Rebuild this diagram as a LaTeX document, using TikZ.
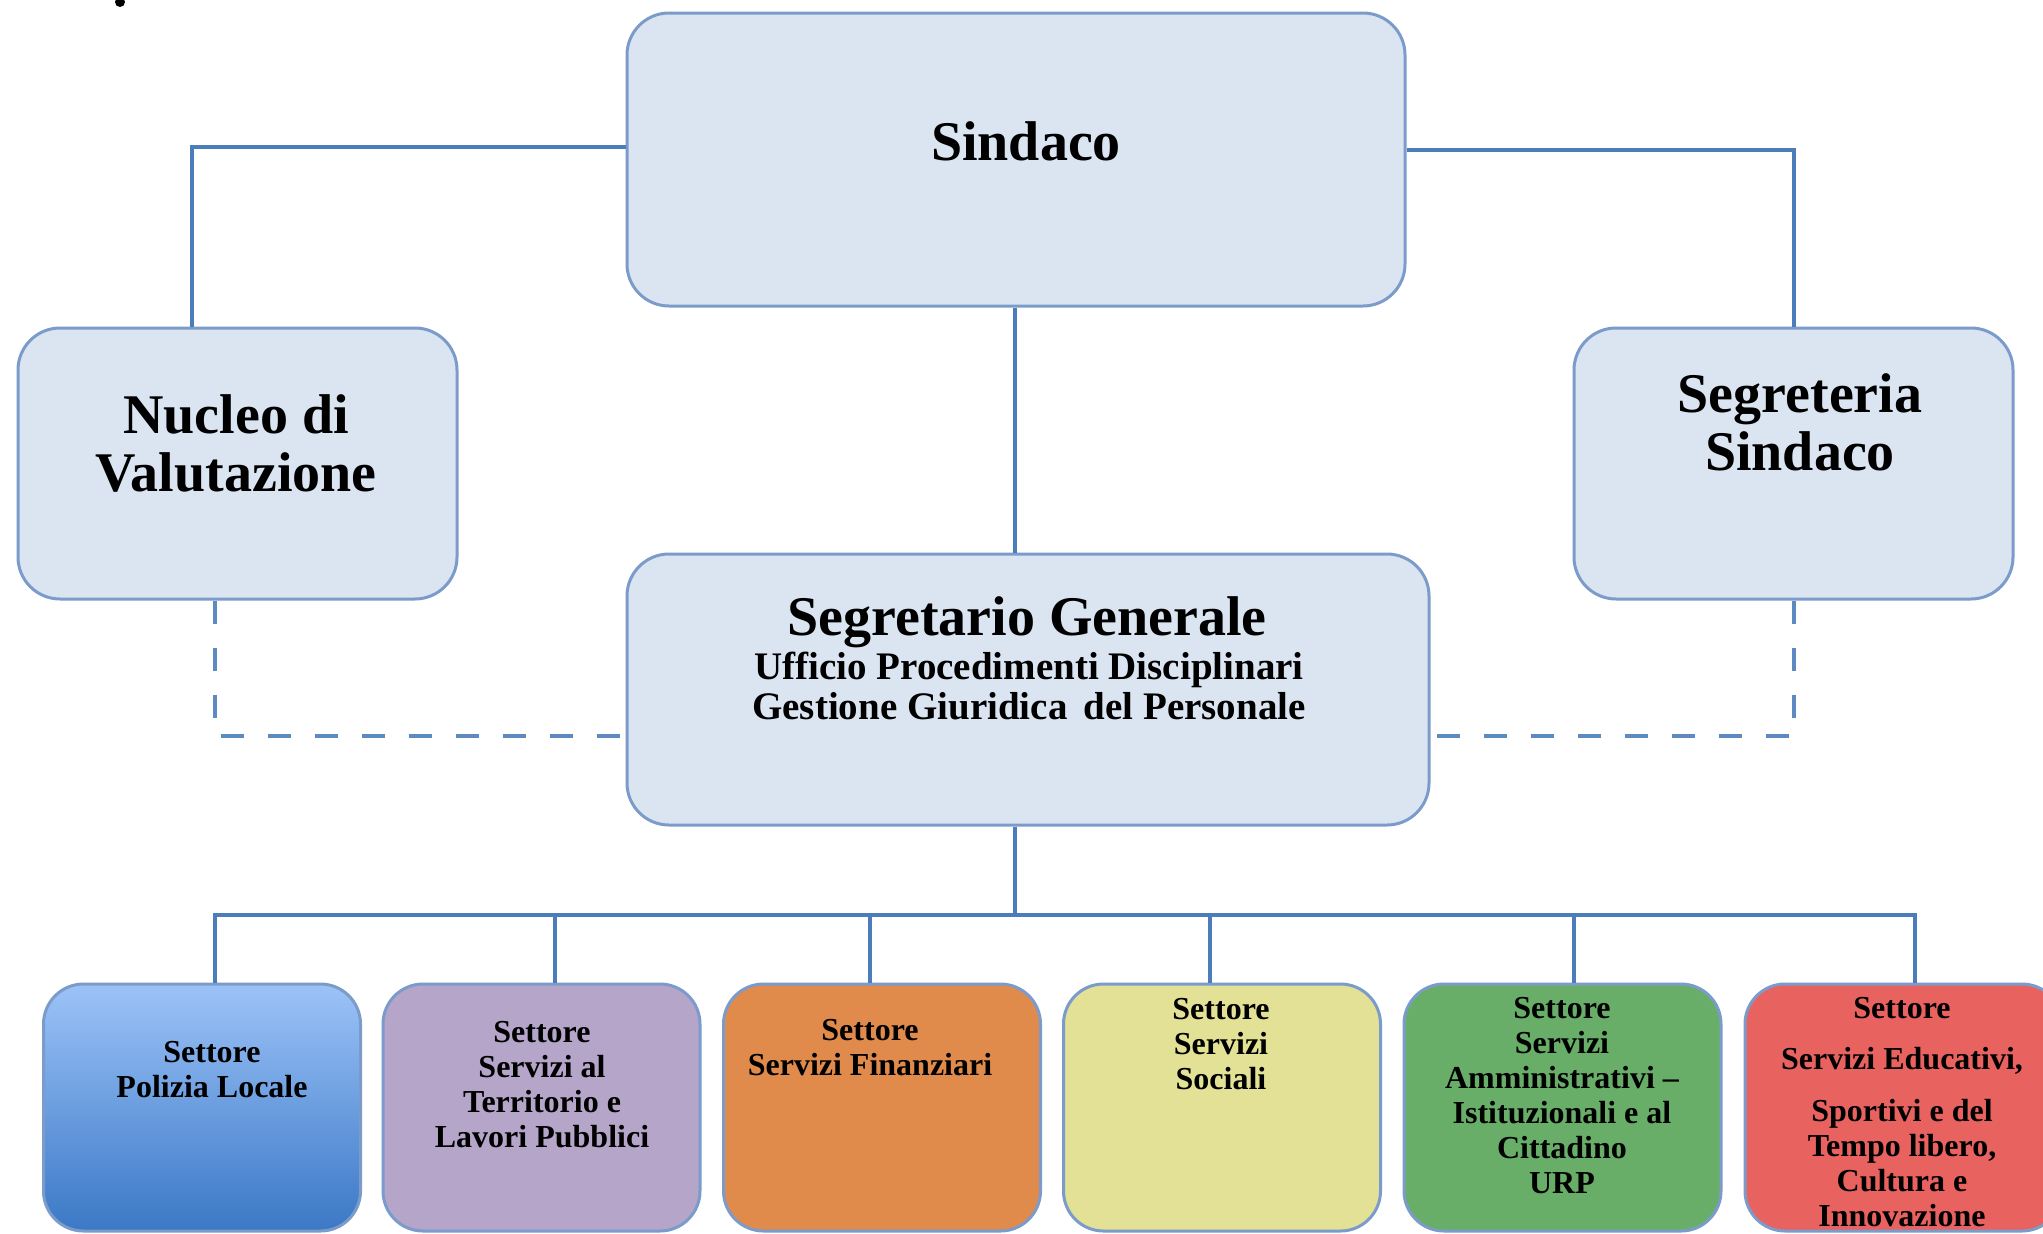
\documentclass[tikz,border=0pt]{standalone}
\usepackage{fontspec}
\setmainfont{Liberation Serif}
\definecolor{lightfill}{HTML}{DBE5F1}
\definecolor{boxborder}{HTML}{7B9CCB}
\definecolor{linecol}{HTML}{4A7DBA}
\definecolor{bluetop}{HTML}{9CC3F8}
\definecolor{bluebot}{HTML}{3B78C6}
\definecolor{purplefill}{HTML}{B5A5C8}
\definecolor{orangefill}{HTML}{E08A4B}
\definecolor{yellowfill}{HTML}{E2E195}
\definecolor{greenfill}{HTML}{68AE68}
\definecolor{redfill}{HTML}{E86260}
\begin{document}
\begin{tikzpicture}[x=1pt,y=-1pt,
  topbox/.style={draw=boxborder, line width=3pt, fill=lightfill, rounded corners=42pt, inner sep=0pt},
  secbox/.style={draw=boxborder, line width=3pt, rounded corners=40pt, inner sep=0pt,
      minimum width=317pt, minimum height=247pt},
  conn/.style={draw=linecol, line width=4pt},
  dconn/.style={draw=linecol!90!white, line width=4.5pt, dash pattern=on 23pt off 24pt},
  bigtxt/.style={font=\fontsize{56}{58}\selectfont\bfseries, align=center, inner sep=0pt},
  midtxt/.style={font=\fontsize{39}{40}\selectfont\bfseries, align=center, inner sep=0pt},
  smalltxt/.style={font=\fontsize{32}{35}\selectfont\bfseries, align=center, inner sep=0pt}
]
\useasboundingbox (0,0) rectangle (2043,1234);
\fill[white] (0,0) rectangle (2043,1234);
\fill[black] (120,2) circle (5);

% boxes
\node[topbox, minimum width=778pt, minimum height=293pt] (sindaco) at (1016,159.5) {};
\node[topbox, minimum width=439pt, minimum height=271pt] (nucleo) at (237.5,463.5) {};
\node[topbox, minimum width=439pt, minimum height=271pt] (segreteria) at (1793.5,463.5) {};
\node[topbox, minimum width=802pt, minimum height=271pt] (segretario) at (1028,689.5) {};

\node[secbox, top color=bluetop, bottom color=bluebot] (b1) at (202,1107.5) {};
\node[secbox, fill=purplefill] (b2) at (541.5,1107.5) {};
\node[secbox, fill=orangefill] (b3) at (882,1107.5) {};
\node[secbox, fill=yellowfill] (b4) at (1222,1107.5) {};
\node[secbox, fill=greenfill] (b5) at (1562.5,1107.5) {};
\node[secbox, fill=redfill] (b6) at (1903.5,1107.5) {};

% texts
\node[bigtxt] (tsindaco) at (1026,141) {Sindaco};
\node[bigtxt] (tnucleo) at (236,443) {Nucleo di\\Valutazione};
\node[bigtxt] (tsegreteria) at (1800,422) {Segreteria\\Sindaco};
\node[bigtxt] (tsegretario) at (1027,622) {Segretario Generale};
\node[midtxt] (tufficio) at (1029,686) {Ufficio Procedimenti Disciplinari\\Gestione Giuridica\, del Personale};

\node[smalltxt] (t1) at (212,1070) {Settore\\Polizia Locale};
\node[smalltxt] (t2) at (542,1085) {Settore\\Servizi al\\Territorio e\\Lavori Pubblici};
\node[smalltxt] (t3) at (870,1048) {Settore\\Servizi Finanziari};
\node[smalltxt] (t4) at (1221,1044) {Settore\\Servizi\\Sociali};
\node[smalltxt] (t5) at (1562,1096) {Settore\\Servizi\\Amministrativi --\\Istituzionali e al\\Cittadino\\URP};
\node[smalltxt] (t6) at (1902,1112) {Settore\\[16pt]Servizi Educativi,\\[17pt]Sportivi e del\\Tempo libero,\\Cultura e\\Innovazione};

% connectors
\draw[conn] (sindaco.west |- 0,147) -| (nucleo.north -| 192,0);
\draw[conn] (sindaco.east |- 0,150) -| (segreteria.north -| 1794,0);
\draw[conn] (sindaco.south -| 1015,0) -- (segretario.north -| 1015,0);
\draw[dconn] (nucleo.south -| 215,0) |- (segretario.west |- 0,736);
\draw[dconn] (segreteria.south -| 1794,0) |- (segretario.east |- 0,736);

\coordinate (bus) at (1015,915);
\coordinate (bus1) at (215,915);
\coordinate (bus2) at (555,915);
\coordinate (bus3) at (870,915);
\coordinate (bus4) at (1210,915);
\coordinate (bus5) at (1574,915);
\coordinate (bus6) at (1915,915);
\draw[conn] (segretario.south -| bus) -- (bus);
\draw[conn, line cap=rect] (bus1) -- (bus6);
\draw[conn] (bus1) -- (b1.north -| bus1);
\draw[conn] (bus2) -- (b2.north -| bus2);
\draw[conn] (bus3) -- (b3.north -| bus3);
\draw[conn] (bus4) -- (b4.north -| bus4);
\draw[conn] (bus5) -- (b5.north -| bus5);
\draw[conn] (bus6) -- (b6.north -| bus6);
\end{tikzpicture}
\end{document}
